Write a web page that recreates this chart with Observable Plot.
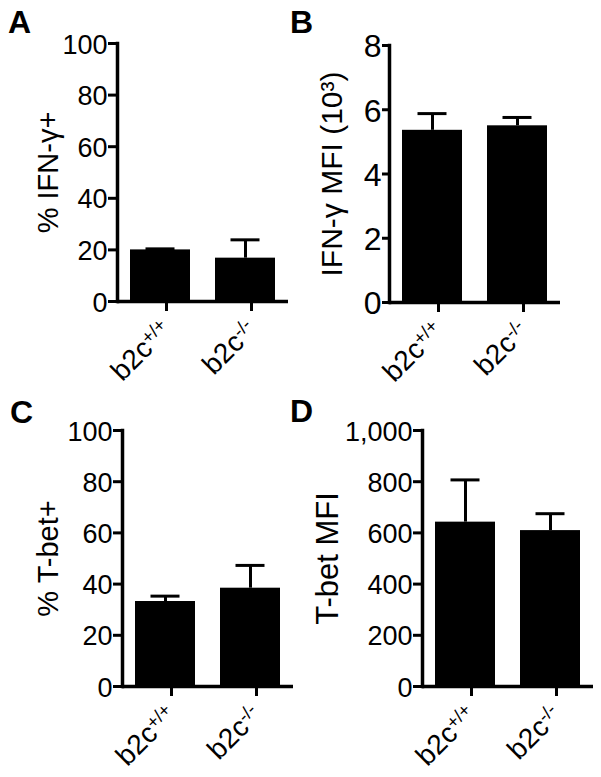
<!DOCTYPE html>
<html><head><meta charset="utf-8">
<script src="https://cdn.jsdelivr.net/npm/d3@7"></script>
<script src="https://cdn.jsdelivr.net/npm/@observablehq/plot@0.6"></script>
<style>
body{margin:0;background:#fff;font-family:"Liberation Sans",Arial,sans-serif;}
#wrap{position:relative;width:601px;height:777px;overflow:hidden;background:#fff;}
.panel{position:absolute;}
.letter{position:absolute;font-weight:bold;font-size:32px;line-height:1;font-family:"Liberation Sans",Arial,sans-serif;z-index:2;}
</style></head><body><div id="wrap"></div>
<script>
// ---- data ----
const groups = ["b2c+/+", "b2c-/-"];
const ifngPct = [20.0, 16.8];
const ifngPctErr = [0.4, 7.1];
const ifngMfi = [5.36, 5.50];
const ifngMfiErr = [0.52, 0.26];
const tbetPct = [33.2, 38.4];
const tbetPctErr = [2.1, 8.9];
const tbetMfi = [642, 609];
const tbetMfiErr = [165, 66];
const ticksPct = [0, 20, 40, 60, 80, 100];
const ticksIfngMfi = [0, 2, 4, 6, 8];
const ticksTbetMfi = [0, 200, 400, 600, 800, 1000];
const panelLetters = ["A", "B", "C", "D"];
const yLabels = ["% IFN-γ+", "IFN-γ MFI (10³)", "% T-bet+", "T-bet MFI"];

// ---- layout ----
const layouts = [
  {left: 0,   top: 0,   w: 300, h: 390, mL: 117, mT: 43, mB: 89, mR: 12, lo: 80,  lfs: 29, tfs: 27, ts: 9, lx: 8,   ly: 6},
  {left: 300, top: 0,   w: 301, h: 390, mL: 89,  mT: 45, mB: 88, mR: 41, lo: 69,  lfs: 30, tfs: 32, ts: 7, lx: 290, ly: 6},
  {left: 0,   top: 390, w: 300, h: 387, mL: 122, mT: 40, mB: 91, mR: 7,  lo: 85,  lfs: 29, tfs: 27, ts: 9, lx: 10,  ly: 396},
  {left: 300, top: 390, w: 301, h: 387, mL: 122, mT: 40, mB: 91, mR: 8,  lo: 107, lfs: 31, tfs: 27, ts: 9, lx: 290, ly: 395}
];
const seriesVals = [ifngPct, ifngMfi, tbetPct, tbetMfi];
const seriesErrs = [ifngPctErr, ifngMfiErr, tbetPctErr, tbetMfiErr];
const seriesTicks = [ticksPct, ticksIfngMfi, ticksPct, ticksTbetMfi];

const wrap = document.getElementById("wrap");
const FONT = '"Liberation Sans", Arial, sans-serif';

layouts.forEach((L, i) => {
  const data = groups.map((g, j) => ({g, v: seriesVals[i][j], e: seriesErrs[i][j]}));
  const ticks = seriesTicks[i];
  const svg = Plot.plot({
    width: L.w, height: L.h,
    marginLeft: L.mL, marginRight: L.mR, marginTop: L.mT, marginBottom: L.mB,
    style: {fontFamily: FONT, color: "black", background: "white", overflow: "visible"},
    x: {type: "band", domain: groups, paddingInner: 0.29, paddingOuter: 0.15},
    y: {domain: [0, ticks[ticks.length - 1]]},
    marks: [
      Plot.barY(data, {x: "g", y: "v", fill: "black"}),
      Plot.ruleX(data, {x: "g", y1: "v", y2: d => d.v + d.e, stroke: "black", strokeWidth: 3}),
      Plot.tickY(data, {x: "g", y: d => d.v + d.e, stroke: "black", strokeWidth: 3, inset: 15.5}),
      // tick marks only
      Plot.axisY({ticks, tickSize: L.ts, fill: "none", strokeWidth: 3, label: null}),
      // tick labels only (nudged slightly down like the reference)
      Plot.axisY({ticks, tickSize: 0, tickPadding: L.ts + 1, fontSize: L.tfs, dy: 1.5, label: null}),
      // axis title
      Plot.axisY({ticks: [], tickSize: 0, label: yLabels[i], labelAnchor: "center", labelArrow: "none", labelOffset: L.lo, fontSize: L.lfs}),
      Plot.axisX({tickSize: 10, tickRotate: -45, tickPadding: 14, dx: 6, fontSize: 28, strokeWidth: 3, label: null}),
      Plot.frame({anchor: "left", strokeWidth: 3.5}),
      Plot.ruleY([0], {strokeWidth: 3.5})
    ]
  });
  // superscript genotype in tick labels
  svg.querySelectorAll('[aria-label="x-axis tick label"] text').forEach(t => {
    const s = t.textContent;
    const m = s.match(/^(b2c)(.+)$/);
    if (!m) return;
    t.textContent = "";
    t.appendChild(document.createTextNode(m[1]));
    const ts = document.createElementNS("http://www.w3.org/2000/svg", "tspan");
    ts.setAttribute("dy", "-0.45em");
    ts.setAttribute("font-size", "0.65em");
    ts.textContent = m[2];
    t.appendChild(ts);
  });
  svg.classList.add("panel");
  svg.style.left = L.left + "px";
  svg.style.top = L.top + "px";
  wrap.appendChild(svg);

  const letter = document.createElement("div");
  letter.className = "letter";
  letter.textContent = panelLetters[i];
  letter.style.left = L.lx + "px";
  letter.style.top = L.ly + "px";
  wrap.appendChild(letter);
});
</script>
</body></html>
